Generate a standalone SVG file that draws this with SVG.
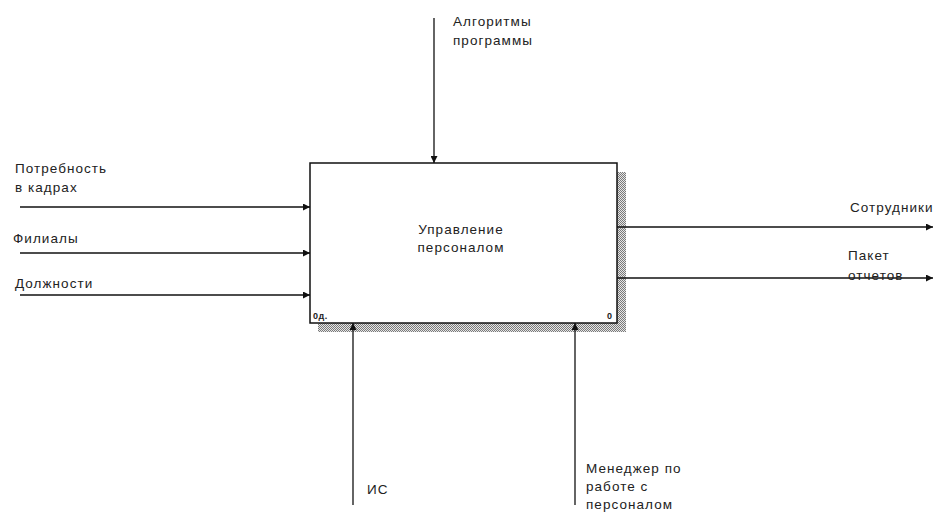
<svg xmlns="http://www.w3.org/2000/svg" width="943" height="515" viewBox="0 0 943 515">
<style>
text{font-family:"Liberation Sans",Arial,sans-serif;font-size:13.5px;letter-spacing:1.05px;fill:#222}
.ln{stroke:#111;stroke-width:1.3;fill:none}
.sm{font-size:9px;font-weight:bold;letter-spacing:0.5px}
</style>
<defs>
<pattern id="hatch" width="2" height="2" patternUnits="userSpaceOnUse">
<rect width="2" height="2" fill="#e6e6e6"/>
<rect width="1" height="1" fill="#7a7a7a"/>
<rect x="1" y="1" width="1" height="1" fill="#7a7a7a"/>
</pattern>
<marker id="ah" viewBox="0 0 10 10" refX="10" refY="5" markerWidth="8" markerHeight="7" markerUnits="userSpaceOnUse" orient="auto">
<path d="M0,0 L10,5 L0,10 z" fill="#111"/>
</marker>
</defs>
<rect width="943" height="515" fill="#fff"/>
<g id="node-A0">
<rect x="617" y="172" width="9" height="160" fill="url(#hatch)"/>
<rect x="318" y="323" width="308" height="9" fill="url(#hatch)"/>
<rect x="310" y="163" width="307" height="160" fill="#fff" stroke="#111" stroke-width="1.5"/>
<text x="461" y="234" text-anchor="middle">Управление</text>
<text x="461" y="252" text-anchor="middle">персоналом</text>
<text x="313" y="319" class="sm">0д.</text>
<text x="607" y="319" class="sm">0</text>
</g>
<g id="connectors">
<line class="ln" x1="20" y1="207" x2="310" y2="207" marker-end="url(#ah)"/>
<line class="ln" x1="20" y1="253" x2="310" y2="253" marker-end="url(#ah)"/>
<line class="ln" x1="20" y1="295" x2="310" y2="295" marker-end="url(#ah)"/>
<line class="ln" x1="434" y1="18" x2="434" y2="163" marker-end="url(#ah)"/>
<line class="ln" x1="617" y1="227" x2="933" y2="227" marker-end="url(#ah)"/>
<line class="ln" x1="617" y1="278" x2="933" y2="278" marker-end="url(#ah)"/>
<line class="ln" x1="353" y1="505" x2="353" y2="323" marker-end="url(#ah)"/>
<line class="ln" x1="575" y1="505" x2="575" y2="323" marker-end="url(#ah)"/>
</g>
<g id="labels">
<text x="15" y="173">Потребность</text>
<text x="15" y="192">в кадрах</text>
<text x="13" y="243">Филиалы</text>
<text x="15" y="288">Должности</text>
<text x="453" y="26">Алгоритмы</text>
<text x="453" y="45">программы</text>
<text x="850" y="212">Сотрудники</text>
<text x="848" y="260">Пакет</text>
<text x="848" y="280">отчетов</text>
<text x="367" y="494">ИС</text>
<text x="586" y="473">Менеджер по</text>
<text x="586" y="491">работе с</text>
<text x="586" y="509">персоналом</text>
</g>
</svg>
